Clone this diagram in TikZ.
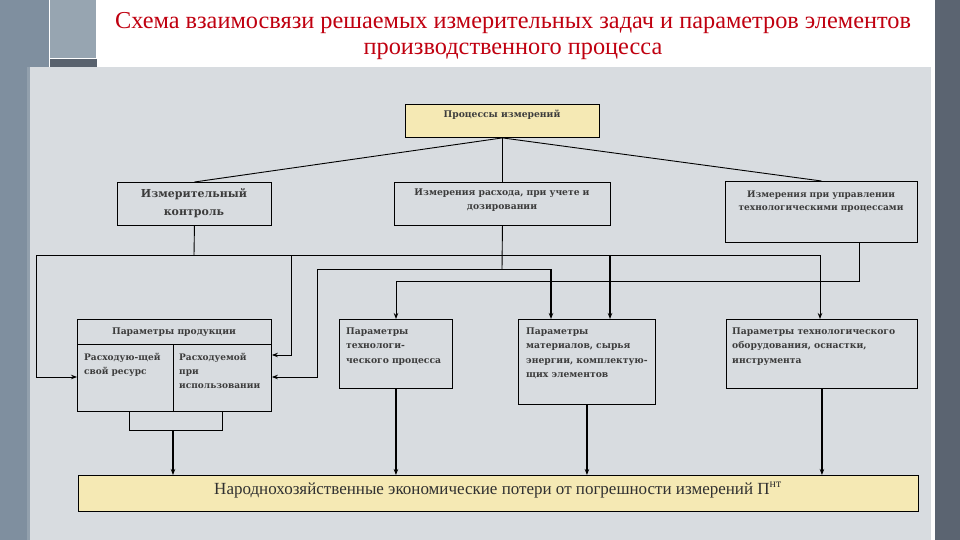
\documentclass[tikz,border=0pt]{standalone}
\usepackage{fontspec}
\setmainfont{Liberation Serif}
\newfontfamily\boxfont{DejaVu Serif}
\usetikzlibrary{arrows.meta}
\definecolor{panel}{RGB}{216,220,224}
\definecolor{stripL}{RGB}{127,143,159}
\definecolor{sqgray}{RGB}{151,165,177}
\definecolor{darkband}{RGB}{89,98,110}
\definecolor{stripR}{RGB}{91,100,113}
\definecolor{yel}{RGB}{245,233,180}
\definecolor{titlered}{RGB}{192,0,16}
\definecolor{txtgray}{RGB}{60,60,60}
\tikzset{
  box/.style={draw=black, line width=0.9pt, fill=panel, inner sep=0pt, anchor=north west},
  ybox/.style={box, fill=yel},
  txt/.style={font=\boxfont\bfseries\fontsize{9.2}{14.5}\selectfont, text=txtgray, inner sep=0pt},
  conn/.style={line width=0.9pt},
  arr/.style={conn, -{Stealth[length=6pt,width=4.5pt]}},
  thk/.style={line width=1.5pt}
}
\begin{document}
\begin{tikzpicture}[x=1pt,y=-1pt]
\useasboundingbox (0,0) rectangle (960,540);
% background
\fill[white] (0,0) rectangle (960,540);
\fill[stripL] (0,0) rectangle (49,67);
\fill[stripL] (0,67) rectangle (30,540);
\fill[stripL!85!white] (27,67) rectangle (30,540);
\fill[sqgray] (50,0) rectangle (96,58);
\fill[darkband] (50,59) rectangle (97,67);
\fill[panel] (30,67) rectangle (931,540);
\fill[stripR] (935,0) rectangle (960,540);
% title
\node[font=\fontsize{24.3}{26.5}\selectfont, text=titlered, align=center] (title) at (513,36)
  {Схема взаимосвязи решаемых измерительных задач и параметров элементов\\производственного процесса};
% boxes
\node[ybox, minimum width=194pt, minimum height=33pt] (pm) at (405,104) {};
\node[box, minimum width=154pt, minimum height=43pt] (ik) at (117,182) {};
\node[box, minimum width=216pt, minimum height=43pt] (ir) at (394,182) {};
\node[box, minimum width=192pt, minimum height=61pt] (iu) at (725,181) {};
\node[box, minimum width=194pt, minimum height=92pt] (pp) at (77,319) {};
\node[box, minimum width=113pt, minimum height=69pt] (ptp) at (339,319) {};
\node[box, minimum width=137pt, minimum height=85pt] (pmat) at (518,319) {};
\node[box, minimum width=191pt, minimum height=69pt] (pto) at (726,319) {};
\node[ybox, minimum width=840pt, minimum height=36pt] (np) at (78,475) {};
% inner lines of pp
\coordinate (y344) at (0,344);
\coordinate (x173) at (173,0);
\draw[conn] (pp.west |- y344) -- (pp.east |- y344);
\draw[conn] (x173 |- y344) -- (x173 |- pp.south);
% texts
\node[txt, anchor=base] (tpm) at (502,118) {Процессы измерений};
\node[txt, font=\boxfont\bfseries\fontsize{11}{17.7}\selectfont, text width=150pt, align=center, anchor=base] (tik) at (194,197.5) {Измерительный\\контроль};
\node[txt, text width=212pt, align=center, anchor=base, font=\boxfont\bfseries\fontsize{9.2}{13.7}\selectfont] (tir) at (502,196) {Измерения расхода, при учете и\\дозировании};
\node[txt, text width=190pt, align=center, anchor=base, font=\boxfont\bfseries\fontsize{9}{13.7}\selectfont] (tiu) at (821,197) {Измерения при управлении\\технологическими процессами};
\node[txt, anchor=base] (tpp) at (174,334) {Параметры продукции};
\node[txt, text width=90pt, align=left, anchor=base west, font=\boxfont\bfseries\fontsize{9}{14}\selectfont] (tpp1) at (84,360) {Расходую-щей\\свой ресурс};
\node[txt, text width=90pt, align=left, anchor=base west, font=\boxfont\bfseries\fontsize{9}{14}\selectfont] (tpp2) at (179,360) {Расходуемой\\при\\использовании};
\node[txt, text width=105pt, align=left, anchor=base west] (tptp) at (346,334) {Параметры\\технологи-\\ческого процесса};
\node[txt, text width=130pt, align=left, anchor=base west] (tpmat) at (526,334) {Параметры\\материалов, сырья\\энергии, комплектую-\\щих элементов};
\node[txt, text width=185pt, align=left, anchor=base west] (tpto) at (732,334) {Параметры технологического\\оборудования, оснастки,\\инструмента};
\node[font=\fontsize{17}{19}\selectfont, text=txtgray!80!black, inner sep=0pt] (tnp) at (498,490)
  {Народнохозяйственные экономические потери от погрешности измерений П\textsuperscript{нт}};
% coordinates
\coordinate (j1) at (194,255);
\coordinate (bL) at (36,255);
\coordinate (bA) at (291,255);
\coordinate (b610) at (610,255);
\coordinate (bR) at (820,255);
\coordinate (y355) at (0,355);
\coordinate (y377) at (0,377);
\coordinate (j2) at (502,269);
\coordinate (c317) at (317,269);
\coordinate (c551) at (551,269);
\coordinate (k859) at (859,281);
\coordinate (k396) at (396,281);
\coordinate (m1) at (129,430);
\coordinate (m2) at (222,430);
\coordinate (m0) at (173,430);
% top connectors
\draw[conn] (pm.south) -- (ik.north);
\draw[conn] (pm.south) -- (ir.north);
\draw[conn] (pm.south) -- (iu.north);
% bus from ik
\draw[conn] (ik.south) -- (j1);
\draw[conn] (bL) -- (bR);
\draw[arr] (bL) |- (pp.west |- y377);
\draw[arr] (bA) |- (pp.east |- y355);
\draw[arr, thk] (b610) -- (b610 |- pmat.north);
\draw[arr] (bR) -- (bR |- pto.north);
% from ir
\draw[conn] (ir.south) -- (j2);
\draw[conn] (c317) -- (c551);
\draw[arr, thk] (c551) -- (c551 |- pmat.north);
\draw[arr] (c317) |- (pp.east |- y377);
% from iu
\draw[arr] (k859 |- iu.south) -- (k859) -- (k396) -- (k396 |- ptp.north);
% to bottom
\draw[conn] (m1 |- pp.south) -- (m1) -- (m2) -- (m2 |- pp.south);
\draw[arr, thk] (m0) -- (m0 |- np.north);
\draw[arr, thk] (ptp.south) -- (ptp.south |- np.north);
\draw[arr, thk] (pmat.south) -- (pmat.south |- np.north);
\draw[arr, thk] (pto.south) -- (pto.south |- np.north);
\end{tikzpicture}
\end{document}
